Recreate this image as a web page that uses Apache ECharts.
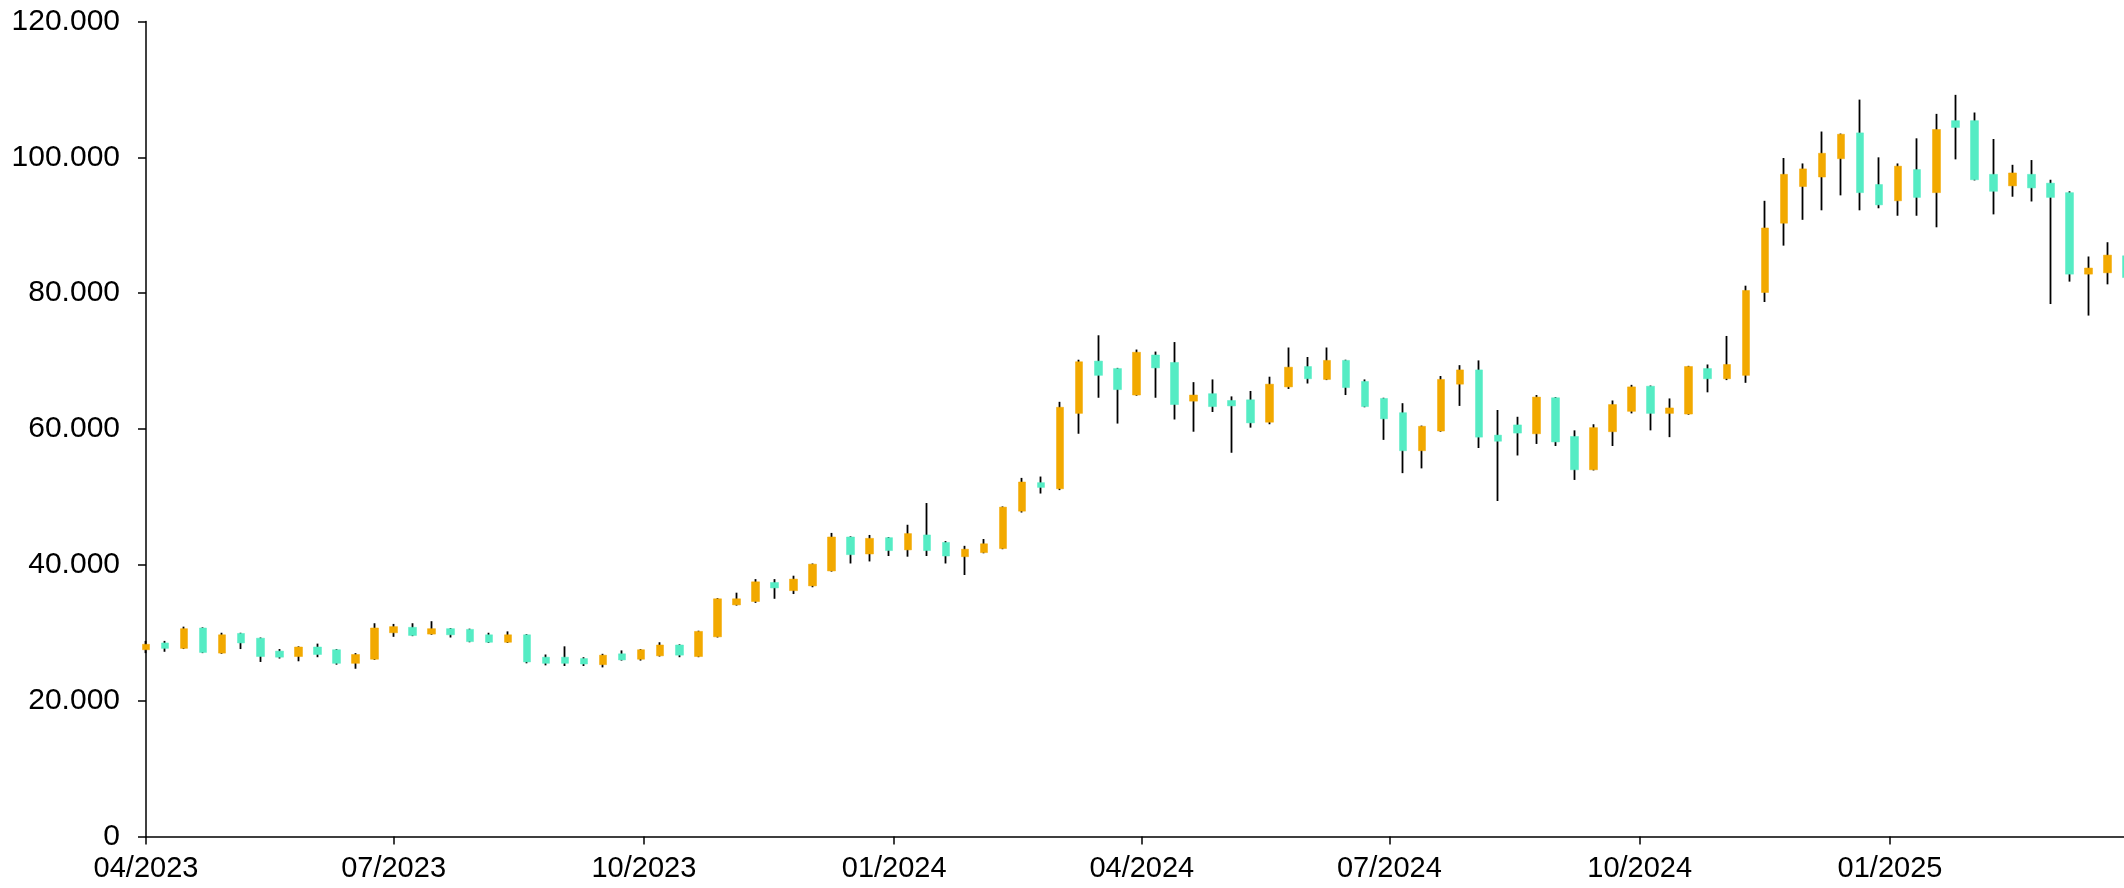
<!DOCTYPE html>
<html>
<head>
<meta charset="utf-8">
<title>Weekly candles 04/2023 - 03/2025</title>
<script src="https://cdn.jsdelivr.net/npm/echarts@6/dist/echarts.min.js"></script>
<style>
  html, body { margin: 0; padding: 0; background: #fff; }
  #chart { width: 2124px; height: 888px; }
</style>
</head>
<body>
<div id="chart"></div>
<script>
// weekly candles, first one is the week of 01/04/2023 (values in thousands)
const firstWeek = [2023, 4, 1]
const weekCount = 105

const opens = [
  27.5, 28.5, 27.7, 30.7, 27.0, 29.9, 29.2, 27.3, 26.5, 27.9,
  27.5, 25.5, 26.1, 30.0, 30.8, 29.8, 30.6, 30.5, 29.7, 28.6,
  29.7, 26.4, 26.4, 26.2, 25.3, 26.9, 26.1, 26.6, 28.2, 26.5,
  29.4, 34.1, 34.6, 37.4, 36.2, 36.9, 39.1, 44.1, 41.6, 44.0,
  42.2, 44.4, 43.3, 41.2, 41.8, 42.4, 47.9, 52.1, 51.2, 62.3,
  70.0, 68.9, 65.0, 70.9, 69.8, 64.1, 65.2, 64.2, 64.3, 61.0,
  66.2, 69.2, 67.3, 70.1, 67.0, 64.5, 62.4, 56.8, 59.7, 66.6,
  68.7, 59.1, 60.6, 59.3, 64.6, 58.9, 54.0, 59.6, 62.6, 66.3,
  62.3, 62.2, 68.9, 67.4, 67.9, 80.1, 90.3, 95.7, 97.1, 99.8,
  103.6, 96.0, 93.6, 98.2, 94.8, 105.4, 105.4, 97.5, 95.8, 97.5,
  96.2, 94.8, 82.8, 83.0, 85.5
]
const closes = [
  28.3, 27.7, 30.6, 27.1, 29.7, 28.5, 26.5, 26.4, 27.9, 26.8,
  25.5, 26.8, 30.7, 30.9, 29.6, 30.6, 29.7, 28.7, 28.6, 29.7,
  25.7, 25.5, 25.5, 25.4, 26.7, 26.0, 27.5, 28.2, 26.7, 30.2,
  35.0, 35.0, 37.5, 36.6, 37.9, 40.1, 44.1, 41.5, 43.9, 42.1,
  44.6, 42.1, 41.3, 42.3, 43.1, 48.5, 52.2, 51.4, 63.2, 69.9,
  67.9, 65.8, 71.3, 69.0, 63.6, 65.0, 63.3, 63.4, 60.9, 66.6,
  69.1, 67.4, 70.1, 66.1, 63.3, 61.5, 56.8, 60.4, 67.3, 68.7,
  58.8, 58.2, 59.4, 64.7, 58.1, 54.0, 60.2, 63.6, 66.2, 62.3,
  63.1, 69.2, 67.4, 69.5, 80.4, 89.6, 97.5, 98.3, 100.6, 103.4,
  94.8, 93.0, 98.7, 94.1, 104.1, 104.4, 96.7, 95.0, 97.7, 95.5,
  94.1, 82.8, 83.7, 85.6, 82.3
]
const lows = [
  27.0, 27.2, 27.6, 27.0, 26.9, 27.6, 25.7, 26.2, 25.8, 26.4,
  25.3, 24.7, 26.0, 29.4, 29.5, 29.7, 29.3, 28.6, 28.5, 28.5,
  25.5, 25.2, 25.1, 25.1, 24.9, 25.9, 25.9, 26.5, 26.4, 26.4,
  29.3, 34.0, 34.4, 35.0, 35.7, 36.7, 39.0, 40.2, 40.5, 41.3,
  41.2, 41.3, 40.2, 38.5, 41.7, 42.3, 47.7, 50.5, 51.0, 59.3,
  64.6, 60.8, 64.9, 64.6, 61.4, 59.6, 62.5, 56.5, 60.2, 60.7,
  65.9, 66.7, 67.2, 65.0, 63.2, 58.4, 53.5, 54.2, 59.6, 63.4,
  57.2, 49.4, 56.1, 57.8, 57.5, 52.5, 53.9, 57.5, 62.3, 59.8,
  58.8, 62.1, 65.4, 67.2, 66.8, 78.7, 87.0, 90.8, 92.2, 94.4,
  92.2, 92.5, 91.4, 91.4, 89.7, 99.7, 96.6, 91.6, 94.2, 93.5,
  78.4, 81.7, 76.7, 81.3, 82.0
]
const highs = [
  28.8, 28.8, 30.9, 30.8, 30.0, 30.0, 29.3, 27.6, 28.0, 28.4,
  27.6, 27.0, 31.4, 31.3, 31.4, 31.7, 30.7, 30.6, 30.0, 30.2,
  29.8, 26.8, 28.0, 26.4, 26.9, 27.4, 27.6, 28.6, 28.3, 30.3,
  35.1, 35.9, 37.9, 37.9, 38.4, 40.2, 44.7, 44.2, 44.4, 44.1,
  45.9, 49.1, 43.5, 42.8, 43.8, 48.6, 52.8, 53.0, 64.0, 70.2,
  73.8, 69.0, 71.7, 71.4, 72.8, 66.9, 67.3, 64.8, 65.6, 67.7,
  72.0, 70.6, 72.0, 70.2, 67.3, 64.6, 63.8, 60.5, 67.8, 69.4,
  70.1, 62.8, 61.8, 65.0, 64.7, 59.8, 60.7, 64.2, 66.5, 66.4,
  64.5, 69.3, 69.5, 73.7, 81.1, 93.6, 99.9, 99.1, 103.8, 103.5,
  108.5, 100.0, 99.1, 102.8, 106.4, 109.2, 106.6, 102.7, 98.9, 99.6,
  96.7, 95.0, 85.4, 87.5, 85.6
]

// quarter ticks on the x axis
const quarterTicks = [
  '2023-04', '2023-07', '2023-10', '2024-01',
  '2024-04', '2024-07', '2024-10', '2025-01'
]
const xStart = '2023-04-01'
const xEnd = '2025-03-28'

const upColor = '#f2a900'
const downColor = '#55ecc4'
const fontFamily = '"Liberation Sans", Arial, sans-serif'

const toDate = (s) => {
  const p = s.split('-').map(Number)
  return new Date(p[0], p[1] - 1, p[2] || 1).getTime()
}

const weeks = []
for (let i = 0; i < weekCount; i++) {
  weeks.push(new Date(firstWeek[0], firstWeek[1] - 1, firstWeek[2] + 7 * i).getTime())
}

// full candle (for the black wick) and body only (colored, drawn on top)
const wickData = weeks.map((t, i) => [t, opens[i], closes[i], lows[i], highs[i]])
const bodyData = weeks.map((t, i) => [
  t, opens[i], closes[i],
  Math.min(opens[i], closes[i]), Math.max(opens[i], closes[i])
])

const pad = (n) => (n < 10 ? '0' : '') + n
const tickValues = quarterTicks.map(toDate)

const chart = echarts.init(document.getElementById('chart'))
chart.setOption({
  animation: false,
  backgroundColor: '#fff',
  grid: { left: 146, right: 0, top: 21.5, bottom: 51.5, containLabel: false },
  xAxis: {
    // timestamps on a value axis, ticks only at quarter starts
    type: 'value',
    min: toDate(xStart),
    max: toDate(xEnd),
    scale: true,
    splitLine: { show: false },
    axisLine: { show: true, onZero: false, lineStyle: { color: '#000', width: 1.5 } },
    axisTick: {
      show: true, length: 8, customValues: tickValues,
      lineStyle: { color: '#000', width: 1.5 }
    },
    axisLabel: {
      customValues: tickValues,
      margin: 18,
      fontFamily: fontFamily,
      fontSize: 29,
      color: '#000',
      formatter: (v) => {
        const d = new Date(v)
        return pad(d.getMonth() + 1) + '/' + d.getFullYear()
      }
    }
  },
  yAxis: {
    type: 'value',
    min: 0,
    max: 120,
    interval: 20,
    splitLine: { show: false },
    axisLine: { show: true, lineStyle: { color: '#000', width: 1.5 } },
    axisTick: { show: true, length: 8, lineStyle: { color: '#000', width: 1.5 } },
    axisLabel: {
      margin: 26,
      fontFamily: fontFamily,
      fontSize: 30,
      color: '#000',
      formatter: (v) => (v === 0 ? '0' : v + '.000')
    }
  },
  series: [
    {
      name: 'wick',
      type: 'candlestick',
      clip: false,
      barWidth: 1,
      silent: true,
      data: wickData,
      itemStyle: {
        color: '#000', color0: '#000',
        borderColor: '#000', borderColor0: '#000', borderColorDoji: '#000',
        borderWidth: 1.8
      }
    },
    {
      name: 'body',
      type: 'candlestick',
      clip: false,
      barWidth: 8,
      silent: true,
      data: bodyData,
      itemStyle: {
        color: upColor, color0: downColor,
        borderColor: upColor, borderColor0: downColor, borderColorDoji: upColor,
        borderWidth: 0.5
      }
    }
  ]
})
</script>
</body>
</html>
